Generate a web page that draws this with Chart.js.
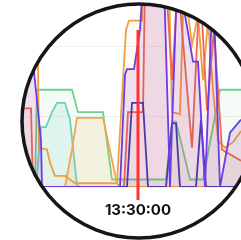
<!DOCTYPE html>
<html>
<head>
    <meta charset="utf-8">
    <title>13:30:00</title>
    <script src="https://cdn.jsdelivr.net/npm/chart.js@4.4.1/dist/chart.umd.min.js"></script>
    <style>
        body { margin: 0; background: #fff; }
        canvas { display: block; }
    </style>
</head>
<body>
    <canvas id="zoomChart" width="241" height="240"></canvas>

    <script>
        // 시간: 13:30:00 기준 초, 값: %
        const baseTime = 13 * 3600 + 30 * 60;
        const tickTimes = [0];
        const markerTime = 0;
        const markerTop = 84;

        const purpleT = [-138, -118, -105, -97, -96, -18, -13, -11, -4, 2, 5, 26, 32, 39, 47, 55, 60, 67, 75, 82, 92, 103];
        const purpleV = [100, 89, 67, 25, 0, 0, 60, 63, 63, 84, 110, 110, 0, 110, 92, 67, 67, 0, 110, 0, 29, 36];

        const navyT = [-138, -11, -6, 5, 10, 28, 34, 38, 42, 58, 63, 68, 103];
        const navyV = [0, 0, 45, 45, 0, 0, 34, 34, 0, 0, 36, 0, 0];

        const salmonT = [-138, -107, -105, -14, -10, 5, 7, 28, 34, 40, 54, 62, 69, 76, 84, 103];
        const salmonV = [42, 42, 0, 0, 40, 40, 110, 110, 57, 110, 21, 110, 41, 84, 20, 14];

        const orangeT = [-138, -101, -99, -91, -88, -83, -73, -68, -63, -21, -15, -12, -9, 4, 5, 31, 34, 42, 46, 54, 60, 65, 70, 75, 80, 87, 95, 103];
        const orangeV = [110, 110, 21, 20, 13, 6, 6, 4, 2, 2, 57, 84, 89, 89, 110, 110, 40, 39, 110, 76, 92, 57, 89, 52, 25, 21, 24, 30];

        const amberT = [-138, -73, -66, -61, -35, -21, -18, 103];
        const amberV = [0, 0, 20, 37, 37, 2, 0, 0];

        const greenT = [-138, -103, -101, -66, -60, -35, -26, 28, 34, 38, 52, 65, 82, 103];
        const greenV = [0, 0, 52, 52, 40, 40, 4, 4, 35, 35, 4, 4, 52, 52];

        const tealT = [-138, -102, -97, -92, -86, -81, -73, -68, -61, -58, 103];
        const tealV = [0, 0, 32, 32, 40, 45, 45, 36, 1, 0, 0];

        function toPoints(times, values) {
            return times.map((t, i) => ({ x: t, y: values[i] }));
        }

        function formatTime(sec) {
            const s = baseTime + sec;
            const hh = String(Math.floor(s / 3600)).padStart(2, '0');
            const mm = String(Math.floor(s / 60) % 60).padStart(2, '0');
            const ss = String(s % 60).padStart(2, '0');
            return hh + ':' + mm + ':' + ss;
        }

        function series(times, values, color, fill) {
            return {
                data: toPoints(times, values),
                borderColor: color,
                backgroundColor: fill || 'transparent',
                fill: fill ? 'origin' : false,
                borderWidth: 1.8,
                pointRadius: 0,
                tension: 0
            };
        }

        // 돋보기 원형 테두리
        const lens = {
            id: 'lens',
            beforeDraw(chart) {
                const ctx = chart.ctx;
                ctx.save();
                ctx.beginPath();
                ctx.arc(139, 121, 117, 0, Math.PI * 2);
                ctx.clip();
            },
            afterDraw(chart) {
                const ctx = chart.ctx;
                ctx.restore();
                ctx.save();
                ctx.beginPath();
                ctx.arc(139, 121, 117, 0, Math.PI * 2);
                ctx.lineWidth = 3.5;
                ctx.strokeStyle = '#161616';
                ctx.stroke();
                ctx.restore();
            }
        };

        // 13:30:00 빨간 기준선
        const markerLine = {
            id: 'markerLine',
            afterDatasetsDraw(chart) {
                const { ctx, scales: { x, y } } = chart;
                const px = x.getPixelForValue(markerTime);
                ctx.save();
                ctx.strokeStyle = '#ff3333';
                ctx.lineWidth = 3;
                ctx.beginPath();
                ctx.moveTo(px, y.getPixelForValue(markerTop));
                ctx.lineTo(px, y.bottom + 13);
                ctx.stroke();
                ctx.restore();
            }
        };

        new Chart(document.getElementById('zoomChart'), {
            type: 'line',
            data: {
                datasets: [
                    series(purpleT, purpleV, '#6c3ae6', 'rgba(150,60,160,0.14)'),
                    series(navyT, navyV, '#3f3aa8'),
                    series(salmonT, salmonV, '#ec6a50', 'rgba(235,105,80,0.06)'),
                    series(orangeT, orangeV, '#f0a040', 'rgba(240,160,60,0.04)'),
                    series(amberT, amberV, '#f2a54a', 'rgba(240,170,70,0.12)'),
                    series(greenT, greenV, '#72cf92', 'rgba(110,205,140,0.08)'),
                    series(tealT, tealV, '#6fd0bd', 'rgba(100,205,185,0.14)')
                ]
            },
            options: {
                responsive: false,
                animation: false,
                devicePixelRatio: 1,
                layout: { padding: { top: 0, left: 0, right: 0, bottom: 7 } },
                plugins: {
                    legend: { display: false },
                    tooltip: { enabled: false }
                },
                scales: {
                    x: {
                        type: 'linear',
                        min: -138,
                        max: 103,
                        grid: { display: false, drawTicks: false },
                        border: { display: false },
                        afterBuildTicks(scale) {
                            scale.ticks = tickTimes.map(v => ({ value: v }));
                        },
                        ticks: {
                            padding: 14,
                            color: '#111',
                            font: { family: 'Inter', size: 15, weight: 'bold' },
                            maxRotation: 0,
                            callback: v => formatTime(v)
                        }
                    },
                    y: {
                        min: 0,
                        max: 100,
                        grid: { color: 'rgba(0,0,0,0.06)', drawTicks: false },
                        border: { display: false },
                        ticks: { display: false, stepSize: 37.5 }
                    }
                }
            },
            plugins: [lens, markerLine]
        });
    </script>
</body>
</html>
